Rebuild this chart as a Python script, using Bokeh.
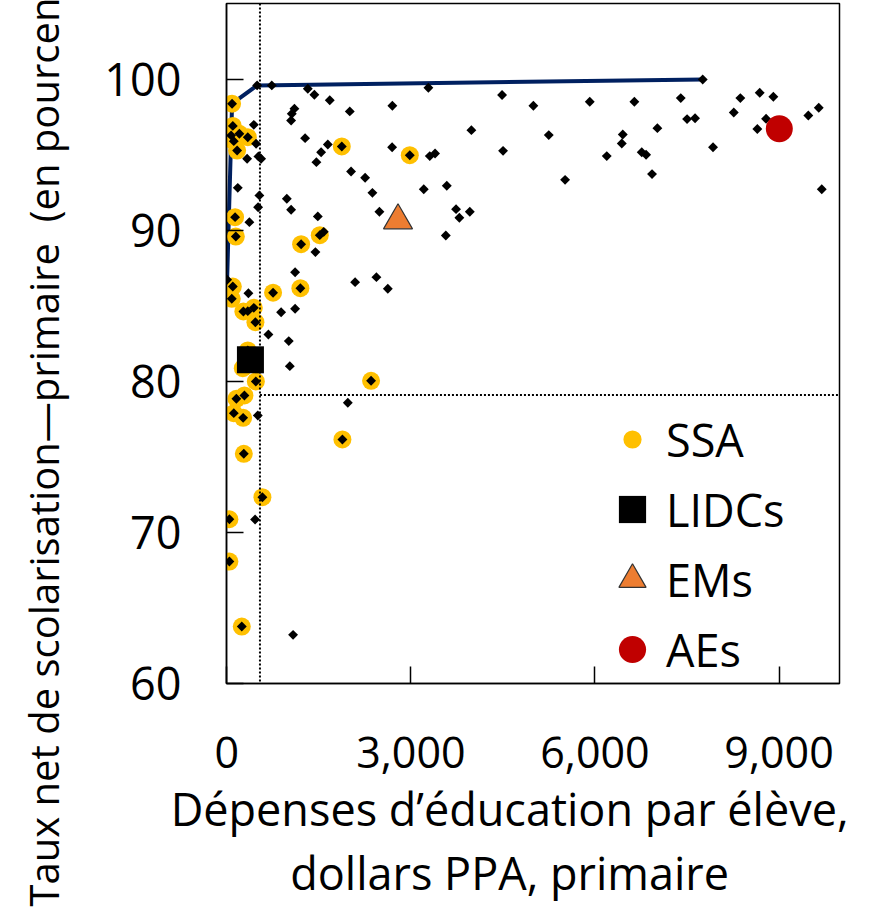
import math
from bokeh.plotting import figure
from bokeh.models import Range1d, Span, Legend, LegendItem, NumeralTickFormatter, FixedTicker
from bokeh.embed import file_html
from bokeh.resources import INLINE

# ---- data ----
ssa_x = [86, 98, 70, 205, 342, 114, 168, 1874, 2982, 135, 147, 1211, 1515, 1199, 754, 98, 81, 270,
         440, 466, 342, 261, 473, 2351, 156, 287, 114, 266, 1884, 277, 580, 42, 42, 244]
ssa_y = [98.37, 96.9, 96.27, 96.38, 96.15, 95.89, 95.27, 95.54, 94.96, 90.86, 89.58, 89.07, 89.67,
         86.16, 85.86, 86.27, 85.46, 84.62, 84.86, 83.91, 82.04, 80.87, 79.99, 80.03, 78.84, 79.06,
         77.89, 77.58, 76.15, 75.2, 72.33, 70.87, 68.07, 63.77]

other_x = [494, 733, 1320, 1427, 1678, 2004, 2698, 3285, 1102, 1059, 1048, 440, 1276, 1646, 1537,
           1460, 2694, 3308, 3394, 2025, 2254, 2373, 2487, 3210, 3585, 3569, 179, 531, 510, 978,
           1048, 1483, 368, 1580, 1444, 1113, 2091, 2438, 2624, 5, 352, 342, 885, 1113, 678, 1010,
           477, 331, 515, 559,
           1027, 505, 1972, 461, 1080,
           7756, 4486, 4996, 5915, 6642, 7398, 8369, 8685, 8907, 8262, 7501, 7631, 8788, 8646,
           9477, 9647, 9696, 3986, 5247, 6453, 6437, 7017, 4502, 6192, 6762, 6833, 7924, 5513,
           6930, 3736, 3790, 3960]
other_y = [99.58, 99.58, 99.36, 98.96, 98.6, 97.86, 98.23, 99.42, 98.04, 97.7, 97.26, 96.97, 96.09,
           95.67, 95.16, 94.5, 95.49, 94.9, 95.07, 93.88, 93.47, 92.47, 91.22, 92.71, 92.94, 89.65,
           92.8, 92.3, 91.52, 92.08, 91.35, 90.91, 90.53, 89.89, 88.55, 87.22, 86.56, 86.89, 86.12,
           86.72, 85.83, 84.64, 84.57, 84.8, 83.1, 82.66, 95.72, 94.73, 94.88, 94.73,
           81.0, 77.74, 78.58, 70.85, 63.22,
           99.97, 98.94, 98.23, 98.5, 98.5, 98.74, 98.74, 99.09, 98.83, 97.79, 97.35, 97.41, 97.37,
           96.69, 97.59, 98.1, 92.71, 96.62, 96.29, 96.33, 95.74, 96.75, 95.25, 94.9, 95.16, 94.99,
           95.49, 93.33, 93.71, 91.39, 90.82, 91.22]

frontier_x = [5, 86, 494, 7756]
frontier_y = [86.72, 98.37, 99.58, 99.97]

lidc_x, lidc_y = [385], [81.42]
em_x, em_y = [2790], [90.64]
ae_x, ae_y = [9004], [96.71]

median_spending = 540
median_enrolment = 79.1

x_ticks = [0, 3000, 6000, 9000]
y_ticks = [60, 70, 80, 90, 100]

legend_labels = ["SSA", "LIDCs", "EMs", "AEs"]
x_title = "Dépenses d’éducation par élève,\u00a0\u00a0\u00a0\u00a0\ndollars PPA, primaire\u00a0\u00a0\u00a0\u00a0"
y_title = "Taux net de scolarisation—primaire\u00a0 (en pourcentage)" + "\u00a0" * 12

FONT = "Open Sans"

p = figure(width=875, height=910, output_backend="svg", toolbar_location=None,
           x_range=Range1d(-5, 9985), y_range=Range1d(60, 105),
           min_border_left=226, min_border_right=36, min_border_top=3, min_border_bottom=227)

p.xgrid.visible = False
p.ygrid.visible = False
p.outline_line_color = "black"
p.outline_line_width = 1.5
p.outline_line_alpha = 1

for ax in (p.xaxis[0], p.yaxis[0]):
    ax.axis_line_color = "black"
    ax.axis_line_width = 1.5
    ax.major_tick_in = 17
    ax.major_tick_out = 0
    ax.major_tick_line_width = 1.5
    ax.minor_tick_line_color = None
    ax.major_label_text_color = "black"
    ax.major_label_text_font = FONT
    ax.axis_label_text_font = FONT
    ax.axis_label_text_font_style = "normal"
    ax.axis_label_text_color = "black"

p.xaxis.ticker = FixedTicker(ticks=x_ticks)
p.xaxis.formatter = NumeralTickFormatter(format="0,0")
p.xaxis.major_label_text_font_size = "43px"
p.xaxis.major_label_standoff = 53
p.xaxis.axis_label = x_title
p.xaxis.axis_label_text_font_size = "45px"
p.xaxis.axis_label_text_line_height = 1.06
p.xaxis.axis_label_standoff = 7

p.yaxis.ticker = FixedTicker(ticks=y_ticks)
p.yaxis.major_label_text_font_size = "45px"
p.yaxis.major_label_standoff = 45
p.yaxis.axis_label = y_title
p.yaxis.axis_label_text_font_size = "40px"
p.yaxis.axis_label_standoff = 30

# reference lines
p.add_layout(Span(location=median_spending, dimension="height", line_color="black",
                  line_width=2, line_dash="2 2"))
p.ray(x=[median_spending], y=[median_enrolment], length=0, angle=0,
      line_color="black", line_width=2, line_dash="2 2")

# frontier
p.line(frontier_x, frontier_y, line_color="#002060", line_width=4)

# SSA highlight circles
p.scatter(ssa_x, ssa_y, marker="circle", size=18, fill_color="#FFC000", line_color=None)
# all countries (diamonds)
p.scatter(other_x + ssa_x, other_y + ssa_y, marker="square", angle=math.pi / 4, size=7,
          fill_color="black", line_color=None)

# group averages
r_lidc = p.scatter(lidc_x, lidc_y, marker="square", size=27, fill_color="black", line_color=None)
r_em = p.scatter(em_x, em_y, marker="triangle", size=29, fill_color="#ED7D31",
                 line_color="#333333", line_width=1.2)
r_ae = p.scatter(ae_x, ae_y, marker="circle", size=27, fill_color="#C00000", line_color=None)

# legend proxy for SSA (smaller yellow dot via white ring)
r_ssa = p.scatter(x=[float("nan")], y=[float("nan")], marker="circle", size=10,
                  fill_color="#FFC000", line_color="white", line_width=9)

legend = Legend(items=[LegendItem(label=lab, renderers=[r]) for lab, r in
                       zip(legend_labels, [r_ssa, r_lidc, r_em, r_ae])],
                location=(372, 0), glyph_width=68, glyph_height=68, spacing=2,
                padding=0, margin=0, label_standoff=-10,
                label_text_font=FONT, label_text_font_size="45px",
                label_text_color="black", border_line_color=None, background_fill_alpha=0)
p.add_layout(legend)

open("out.html", "w").write(file_html(p, INLINE))
